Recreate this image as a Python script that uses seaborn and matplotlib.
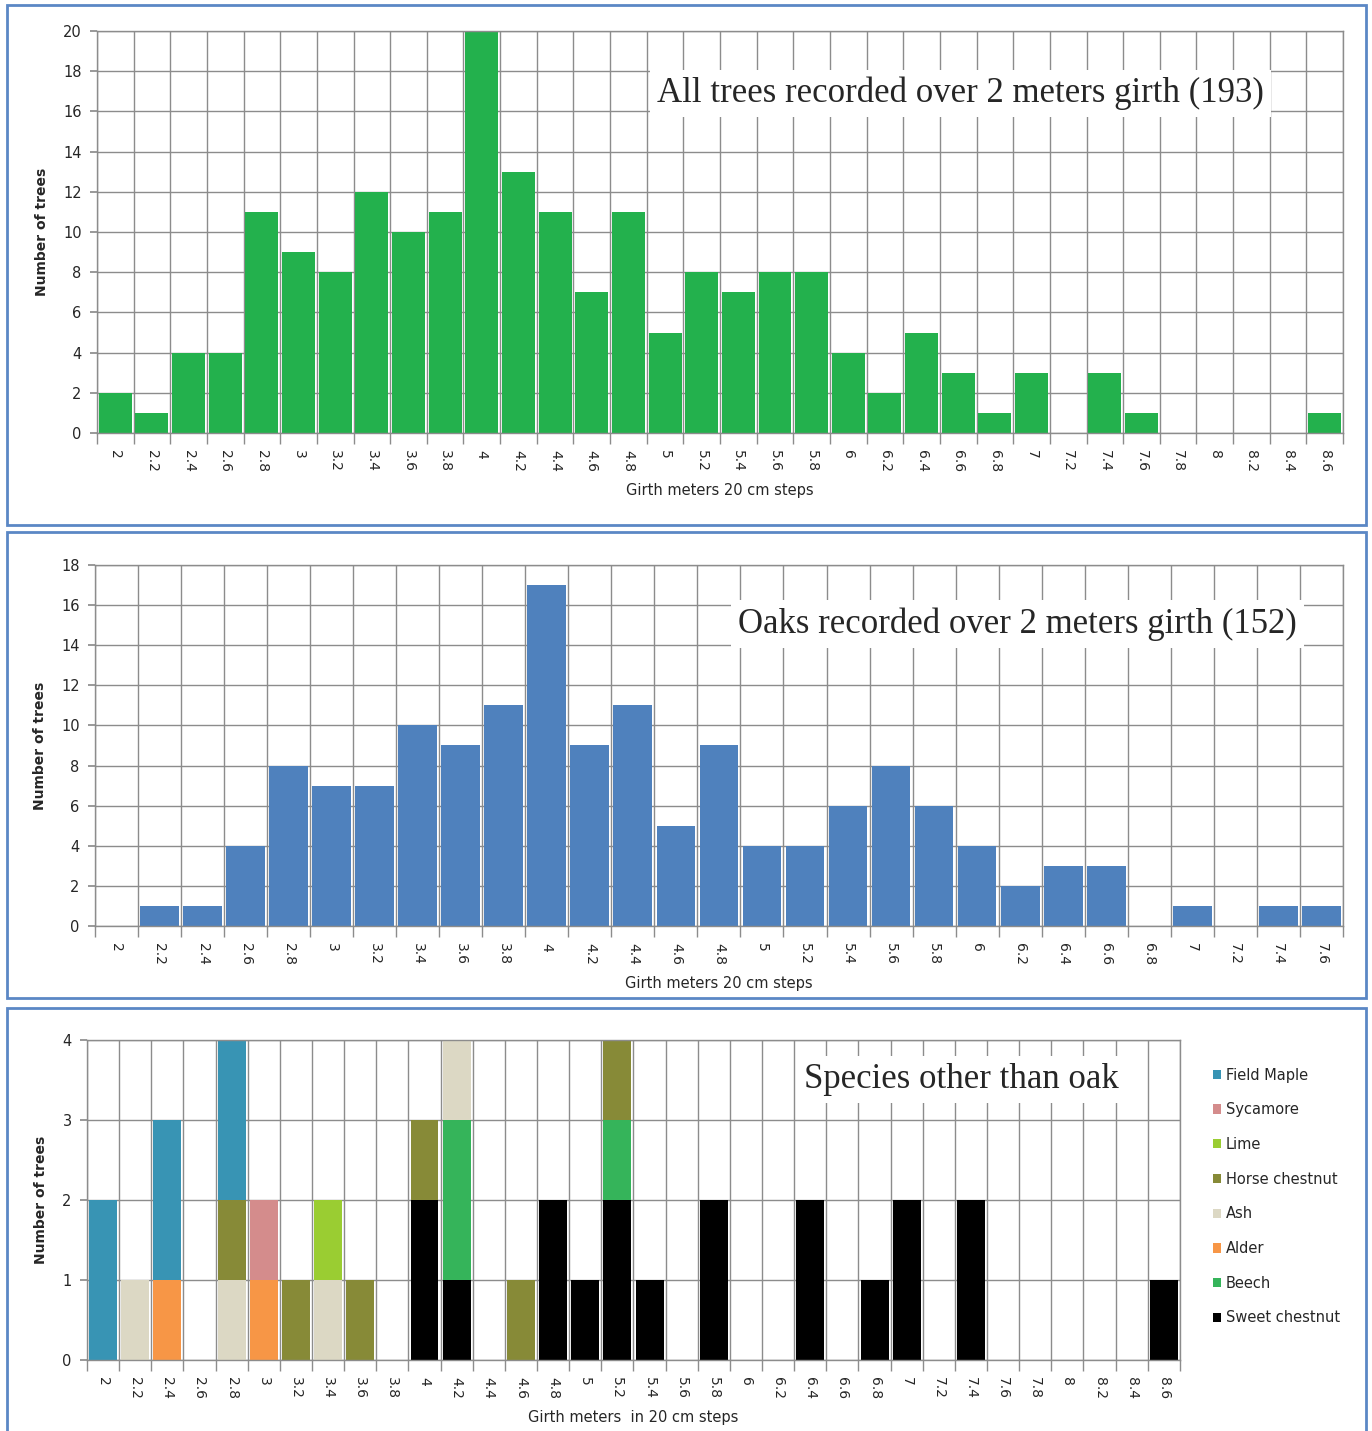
import numpy as np
import pandas as pd
import matplotlib.pyplot as plt
import seaborn as sns
from matplotlib.patches import Patch, Rectangle

# girth classes (metres, 20 cm steps)
girth_all = ["2", "2.2", "2.4", "2.6", "2.8", "3", "3.2", "3.4", "3.6", "3.8",
             "4", "4.2", "4.4", "4.6", "4.8", "5", "5.2", "5.4", "5.6", "5.8",
             "6", "6.2", "6.4", "6.6", "6.8", "7", "7.2", "7.4", "7.6", "7.8",
             "8", "8.2", "8.4", "8.6"]
girth_oak = girth_all[:29]

# all trees (193)
all_counts = [2, 1, 4, 4, 11, 9, 8, 12, 10, 11,
              20, 13, 11, 7, 11, 5, 8, 7, 8, 8,
              4, 2, 5, 3, 1, 3, 0, 3, 1, 0,
              0, 0, 0, 1]

# oaks (152)
oak_counts = [0, 1, 1, 4, 8, 7, 7, 10, 9, 11,
              17, 9, 11, 5, 9, 4, 4, 6, 8, 6,
              4, 2, 3, 3, 0, 1, 0, 1, 1]

# other species, per girth class
field_maple    = [2, 0, 2, 0, 2, 0, 0, 0, 0, 0, 0, 0, 0, 0, 0, 0, 0, 0, 0, 0, 0, 0, 0, 0, 0, 0, 0, 0, 0, 0, 0, 0, 0, 0]
sycamore       = [0, 0, 0, 0, 0, 1, 0, 0, 0, 0, 0, 0, 0, 0, 0, 0, 0, 0, 0, 0, 0, 0, 0, 0, 0, 0, 0, 0, 0, 0, 0, 0, 0, 0]
lime           = [0, 0, 0, 0, 0, 0, 0, 1, 0, 0, 0, 0, 0, 0, 0, 0, 0, 0, 0, 0, 0, 0, 0, 0, 0, 0, 0, 0, 0, 0, 0, 0, 0, 0]
horse_chestnut = [0, 0, 0, 0, 1, 0, 1, 0, 1, 0, 1, 0, 0, 1, 0, 0, 1, 0, 0, 0, 0, 0, 0, 0, 0, 0, 0, 0, 0, 0, 0, 0, 0, 0]
ash            = [0, 1, 0, 0, 1, 0, 0, 1, 0, 0, 0, 1, 0, 0, 0, 0, 0, 0, 0, 0, 0, 0, 0, 0, 0, 0, 0, 0, 0, 0, 0, 0, 0, 0]
alder          = [0, 0, 1, 0, 0, 1, 0, 0, 0, 0, 0, 0, 0, 0, 0, 0, 0, 0, 0, 0, 0, 0, 0, 0, 0, 0, 0, 0, 0, 0, 0, 0, 0, 0]
beech          = [0, 0, 0, 0, 0, 0, 0, 0, 0, 0, 0, 2, 0, 0, 0, 0, 1, 0, 0, 0, 0, 0, 0, 0, 0, 0, 0, 0, 0, 0, 0, 0, 0, 0]
sweet_chestnut = [0, 0, 0, 0, 0, 0, 0, 0, 0, 0, 2, 1, 0, 0, 2, 1, 2, 1, 0, 2, 0, 0, 2, 0, 1, 2, 0, 2, 0, 0, 0, 0, 0, 1]

legend_names = ["Field Maple", "Sycamore", "Lime", "Horse chestnut",
                "Ash", "Alder", "Beech", "Sweet chestnut"]
species_colors = {"Field Maple": "#3894b4", "Sycamore": "#d48c8c", "Lime": "#9acd32",
                  "Horse chestnut": "#878a37", "Ash": "#dcd8c4", "Alder": "#f79646",
                  "Beech": "#35b45a", "Sweet chestnut": "#000000"}
species_counts = {"Field Maple": field_maple, "Sycamore": sycamore, "Lime": lime,
                  "Horse chestnut": horse_chestnut, "Ash": ash, "Alder": alder,
                  "Beech": beech, "Sweet chestnut": sweet_chestnut}
# stacking order, bottom to top
stack_order = legend_names[::-1]

sns.set_theme(style="white")
plt.rcParams['font.family'] = ['DejaVu Sans']

GRID = "#8c8c8c"
fig = plt.figure(figsize=(13.72, 14.31), dpi=100)


def style_axes(ax, n, ymax, ystep):
    ax.set_xlim(-0.5, n - 0.5)
    ax.set_ylim(0, ymax)
    ax.set_yticks(np.arange(0, ymax + 0.1, ystep))
    ax.set_xticks(np.arange(-0.5, n, 1), minor=True)
    ax.set_axisbelow(True)
    ax.grid(which="minor", axis="x", color=GRID, lw=1)
    ax.grid(which="major", axis="y", color=GRID, lw=1)
    ax.grid(which="major", axis="x", visible=False)
    for s in ax.spines.values():
        s.set_color(GRID)
        s.set_linewidth(1)
    ax.tick_params(axis="x", which="major", length=0, pad=12, labelsize=10, labelrotation=270)
    ax.tick_params(axis="x", which="minor", length=8, color=GRID, bottom=True)
    ax.tick_params(axis="y", length=5, color=GRID, left=True, labelsize=10.5, pad=6)
    ax.set_ylabel("Number of trees", fontsize=10, fontweight="bold", labelpad=10)


def title_box(ax, text, x, y):
    ax.text(x, y, text, transform=ax.transAxes, ha="center", va="center",
            fontsize=25, family="Liberation Serif", zorder=10,
            bbox=dict(facecolor="white", edgecolor="none", pad=5))


def panel_border(y0, y1):
    H = 1431.0
    fig.add_artist(Rectangle((7 / 1372, 1 - y1 / H), 1359 / 1372, (y1 - y0) / H,
                             transform=fig.transFigure, fill=False,
                             edgecolor="#5b87c5", lw=2, zorder=0))


# --- panel 1: all trees ---
ax1 = fig.add_axes([0.0707, 0.6974, 0.9082, 0.2809])
sns.barplot(x=girth_all, y=all_counts, order=girth_all, color="#23b14d",
            saturation=1, width=0.9, errorbar=None, linewidth=0, ax=ax1)
style_axes(ax1, len(girth_all), 20, 2)
ax1.set_xlabel("Girth meters 20 cm steps", fontsize=10.5, labelpad=8)
title_box(ax1, "All trees recorded over 2 meters girth (193)", 0.693, 0.845)
panel_border(5, 525)

# --- panel 2: oaks ---
ax2 = fig.add_axes([0.0692, 0.3529, 0.9096, 0.2523])
sns.barplot(x=girth_oak, y=oak_counts, order=girth_oak, color="#4f81bd",
            saturation=1, width=0.9, errorbar=None, linewidth=0, ax=ax2)
style_axes(ax2, len(girth_oak), 18, 2)
ax2.set_xlabel("Girth meters 20 cm steps", fontsize=10.5, labelpad=8)
title_box(ax2, "Oaks recorded over 2 meters girth (152)", 0.739, 0.836)
panel_border(532, 998)

# --- panel 3: other species, stacked ---
ax3 = fig.add_axes([0.0634, 0.0496, 0.7966, 0.2236])
base = np.zeros(len(girth_all))
for name in stack_order:
    vals = np.array(species_counts[name], dtype=float)
    sns.barplot(x=girth_all, y=vals, order=girth_all, color=species_colors[name],
                saturation=1, width=0.87, errorbar=None, linewidth=0,
                bottom=base, ax=ax3)
    base = base + vals
style_axes(ax3, len(girth_all), 4, 1)
ax3.set_xlabel("Girth meters  in 20 cm steps", fontsize=10.5, labelpad=8)
title_box(ax3, "Species other than oak", 0.80, 0.876)
handles = [Patch(facecolor=species_colors[n], edgecolor="none") for n in legend_names]
ax3.legend(handles, legend_names, loc="upper left", bbox_to_anchor=(1.018, 0.955),
           frameon=False, fontsize=10.5, handlelength=0.6, handleheight=0.6,
           handletextpad=0.3, labelspacing=1.35)
panel_border(1008, 1440)

fig.savefig("out.png", dpi=100)
